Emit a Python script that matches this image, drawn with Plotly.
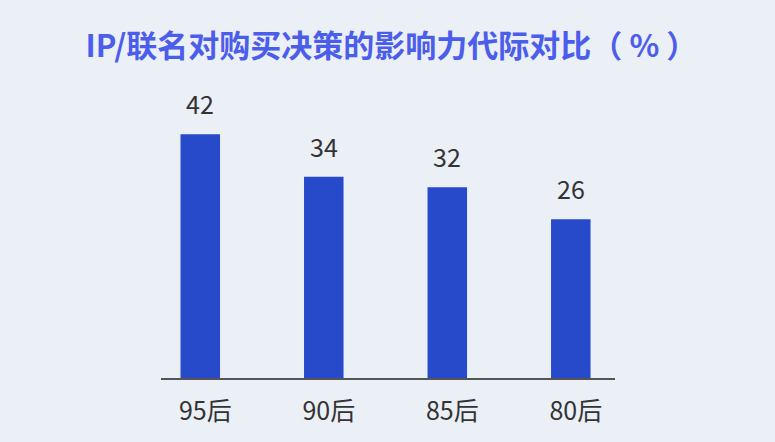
import plotly.graph_objects as go

# data
generations = ["95后", "90后", "85后", "80后"]
influence = [42, 34, 32, 26]

title_text = "IP/联名对购买决策的影响力代际对比（ % ）"

BAR_COLOR = "#274ACB"
TITLE_COLOR = "#4B5DEB"
BG_COLOR = "#EBEFF6"
TEXT_COLOR = "#333333"
FONT = "Noto Sans CJK SC"

# bars sit on a baseline a little below zero, as in the reference
baseline = -3.9

fig = go.Figure(go.Bar(
    x=generations,
    y=[v - baseline for v in influence],
    base=baseline,
    width=0.32,
    marker=dict(color=BAR_COLOR, line=dict(width=0)),
    hovertext=[str(v) for v in influence],
    hoverinfo="x+text",
))

# value labels above each bar
for g, v in zip(generations, influence):
    fig.add_annotation(
        x=g, y=v, text=str(v),
        showarrow=False, yanchor="bottom", yshift=11,
        font=dict(family=FONT, size=25, color=TEXT_COLOR),
    )

fig.update_layout(
    width=775,
    height=442,
    margin=dict(l=161, r=160, t=80, b=64),
    paper_bgcolor=BG_COLOR,
    plot_bgcolor=BG_COLOR,
    showlegend=False,
    font=dict(family=FONT, color=TEXT_COLOR),
    title=dict(
        text="<b>" + title_text + "</b>",
        x=0.505, xanchor="center",
        y=0.895, yanchor="middle",
        font=dict(family=FONT, size=31, color=TITLE_COLOR),
    ),
    xaxis=dict(
        range=[-0.318, 3.358],
        showline=True, linecolor="#555555", linewidth=1.5,
        showgrid=False, zeroline=False,
        ticks="", ticklabelstandoff=10, ticklabelshift=5,
        tickfont=dict(family=FONT, size=25, color=TEXT_COLOR),
    ),
    yaxis=dict(
        range=[baseline, 52.2],
        visible=False, showgrid=False, zeroline=False,
    ),
)

# drop the default page margin so the chart fills the window
fig.write_html(
    "out.html",
    config={"displayModeBar": False},
    post_script="document.body.style.margin='0';",
)
